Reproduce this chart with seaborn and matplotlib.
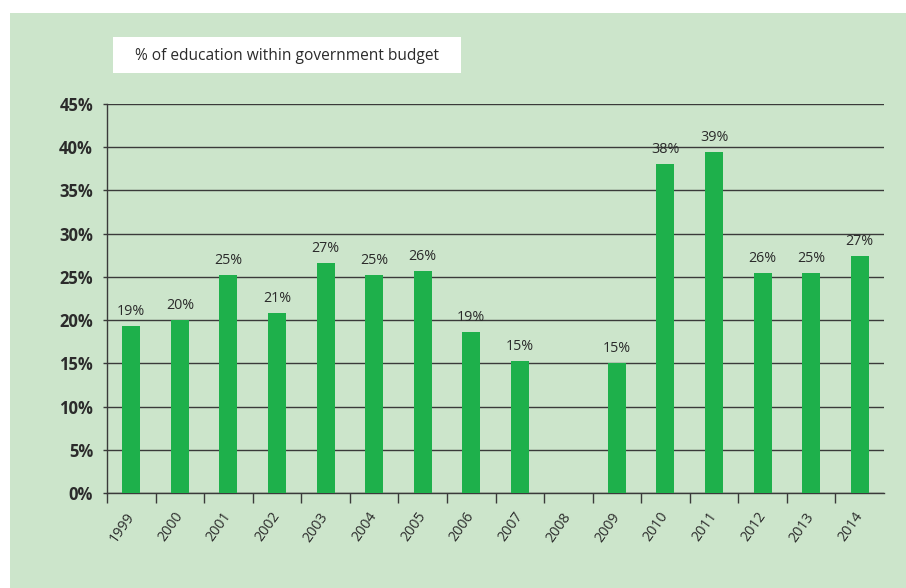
import numpy as np
import pandas as pd
import matplotlib
matplotlib.use("Agg")
import matplotlib.pyplot as plt
from matplotlib.patches import Rectangle
import seaborn as sns

# Share of education spending in the government budget, by year
years = ["1999", "2000", "2001", "2002", "2003", "2004", "2005", "2006",
         "2007", "2008", "2009", "2010", "2011", "2012", "2013", "2014"]
share_pct = [19.3, 20.0, 25.2, 20.8, 26.6, 25.2, 25.7, 18.6,
             15.3, np.nan, 15.0, 38.1, 39.4, 25.5, 25.4, 27.4]
y_ticks = [0, 5, 10, 15, 20, 25, 30, 35, 40, 45]
title_text = "% of education within government budget"

PANEL = "#cce5cb"
BAR = "#1eb04b"
INK = "#2b2b2b"
GRID = "#3a3a3a"

sns.set_theme(style="white")
plt.rcParams["font.family"] = ["Open Sans", "DejaVu Sans"]

df = pd.DataFrame({"year": years, "share": share_pct})

W, H = 906, 588
fig = plt.figure(figsize=(W / 100, H / 100), dpi=100)
fig.patch.set_facecolor("white")

# green panel behind the whole chart
fig.patches.append(Rectangle((10 / W, 0), 1 - 10 / W, 1 - 13 / H,
                             transform=fig.transFigure, facecolor=PANEL,
                             edgecolor="none", zorder=-5))

# white title box
fig.patches.append(Rectangle((113 / W, 1 - 73 / H), (461 - 113) / W, 36 / H,
                             transform=fig.transFigure, facecolor="white",
                             edgecolor="none", zorder=1))
fig.text(287 / W, 1 - 56 / H, title_text, ha="center", va="center",
         fontsize=11.2, color=INK, zorder=2)

left, right, top, bottom = 107, 884, 104, 493
ax = fig.add_axes([left / W, 1 - bottom / H, (right - left) / W, (bottom - top) / H])
ax.set_facecolor("none")

sns.barplot(data=df, x="year", y="share", order=years, color=BAR,
            width=0.37, saturation=1, linewidth=0, edgecolor="none",
            ax=ax, zorder=3)

ax.set_xlim(-0.5, len(years) - 0.5)
ax.set_ylim(0, 45)
ax.set_yticks(y_ticks)
ax.set_yticklabels([f"{v}%" for v in y_ticks], fontweight="bold",
                   fontsize=12, color=INK)
ax.yaxis.grid(True, color=GRID, linewidth=1.0)
ax.set_axisbelow(True)
ax.tick_params(axis="y", length=3, width=1, color=GRID, pad=7, left=True)

# year labels at bar centres, tick marks on category boundaries
ax.set_xticks(range(len(years)))
ax.set_xticklabels(years, rotation=55, ha="right", va="center",
                   rotation_mode="anchor", fontsize=10.3, color=INK)
ax.tick_params(axis="x", which="major", length=0, pad=15)
ax.set_xticks([i - 0.5 for i in range(len(years))], minor=True)
ax.tick_params(axis="x", which="minor", length=7, width=1, color=GRID,
               bottom=True, direction="out")

ax.set_xlabel("")
ax.set_ylabel("")
for side in ("top", "right"):
    ax.spines[side].set_visible(False)
for side in ("left", "bottom"):
    ax.spines[side].set_color(GRID)
    ax.spines[side].set_linewidth(1.0)

# value labels above bars
for i, v in enumerate(share_pct):
    if np.isnan(v):
        continue
    ax.annotate(f"{v:.0f}%", (i, v), xytext=(0, 5), textcoords="offset points",
                ha="center", va="bottom", fontsize=10.3, color=INK, zorder=4)

fig.savefig("out.png", dpi=100, facecolor=fig.get_facecolor())
